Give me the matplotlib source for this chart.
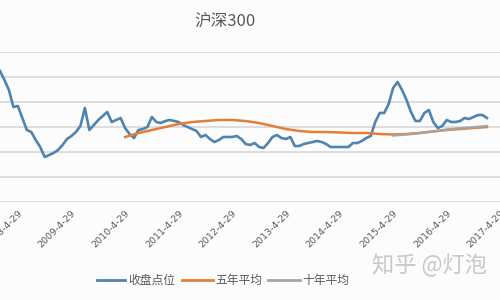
import numpy as np
import matplotlib.pyplot as plt
from matplotlib.lines import Line2D

plt.rcParams['font.family'] = ['Noto Sans CJK SC', 'DejaVu Sans']

# ── data (monthly, month index 0 = 2008-01) ──
close_months = np.arange(0, 110)
close_vals = [
    5240, 4880, 4480, 3800, 3840, 3360, 2880, 2800, 2480, 2200,
    1800, 1880, 1960, 2080, 2280, 2520, 2640, 2800, 3040, 3760,
    2880, 3080, 3280, 3440, 3600, 3200, 3280, 3360, 2960, 2720,
    2560, 2880, 2920, 3000, 3400, 3200, 3160, 3240, 3280, 3240,
    3200, 3080, 3000, 2920, 2840, 2600, 2680, 2520, 2400, 2480,
    2600, 2600, 2600, 2640, 2520, 2320, 2280, 2360, 2200, 2160,
    2360, 2600, 2680, 2560, 2520, 2600, 2240, 2240, 2320, 2360,
    2400, 2440, 2400, 2320, 2200, 2200, 2200, 2200, 2200, 2360,
    2360, 2440, 2560, 2640, 3200, 3560, 3560, 3920, 4560, 4800,
    4480, 4080, 3600, 3240, 3240, 3560, 3680, 3200, 2960, 3040,
    3280, 3200, 3200, 3240, 3360, 3320, 3400, 3480, 3480, 3360,
]

ma5_months = [28, 31, 34, 37, 40, 43, 46, 49, 52, 55, 58, 61, 64, 67,
              70, 73, 76, 79, 82, 85, 88, 91, 94, 97, 100, 103, 106, 109]
ma5_vals = [2600, 2760, 2880, 3000, 3120, 3200, 3240, 3280, 3280, 3240,
            3160, 3040, 2920, 2840, 2800, 2800, 2780, 2760, 2760, 2720,
            2700, 2720, 2760, 2820, 2880, 2920, 2960, 3000]

ma10_months = [88, 91, 94, 97, 100, 103, 106, 109]
ma10_vals = [2660, 2700, 2760, 2830, 2900, 2950, 2990, 3040]

tick_months = np.arange(3.93, 112, 12)
tick_labels = [f"{y}-4-29" for y in range(2008, 2018)]

BLUE = '#4f83b0'
ORANGE = '#e27d3a'
GRAY = '#a5a5a5'
TXT = '#595959'

fig = plt.figure(figsize=(5, 3), dpi=100)
fig.patch.set_facecolor('#fcfcfc')
ax = fig.add_axes([0, (300 - 202) / 300, 1, 150 / 300])
ax.set_facecolor('#fcfcfc')

ax.plot(close_months, close_vals, color=BLUE, lw=1.9, solid_joinstyle='round')
ax.plot(ma5_months, ma5_vals, color=ORANGE, lw=1.8)
ax.plot(ma10_months, ma10_vals, color=GRAY, lw=1.8, alpha=0.9)

ax.set_xlim(0, 500 / 4.617)
ax.set_ylim(0, 6000)
ax.set_yticks(np.arange(0, 6001, 1000))
ax.yaxis.grid(True, color='#dadada', lw=1.3)
ax.set_axisbelow(True)
ax.tick_params(axis='y', left=False, labelleft=False)
for s in ax.spines.values():
    s.set_visible(False)

ax.set_xticks(tick_months)
ax.set_xticklabels(tick_labels, rotation=45, ha='right', rotation_mode='anchor',
                   fontsize=6.8, color=TXT, family='DejaVu Sans')
ax.tick_params(axis='x', length=0, pad=5)

fig.text(225 / 500, 1 - 22 / 300, '沪深300', ha='center', va='center',
         fontsize=12, color=TXT)

# legend
ly = 1 - 280 / 300
for x0, x1, c, tx, lab in [(97, 125, BLUE, 128, '收盘点位'),
                           (182, 213, ORANGE, 215, '五年平均'),
                           (268, 300, GRAY, 302, '十年平均')]:
    fig.add_artist(Line2D([x0 / 500, x1 / 500], [ly, ly], color=c, lw=2))
    fig.text(tx / 500, ly, lab, ha='left', va='center', fontsize=8.5, color=TXT)

# watermark
fig.text(372 / 500, 1 - 265 / 300, '知乎 @灯泡', ha='left', va='center',
         fontsize=16, color='#c8c8c8')

plt.savefig('out.png', dpi=100, facecolor=fig.get_facecolor())
